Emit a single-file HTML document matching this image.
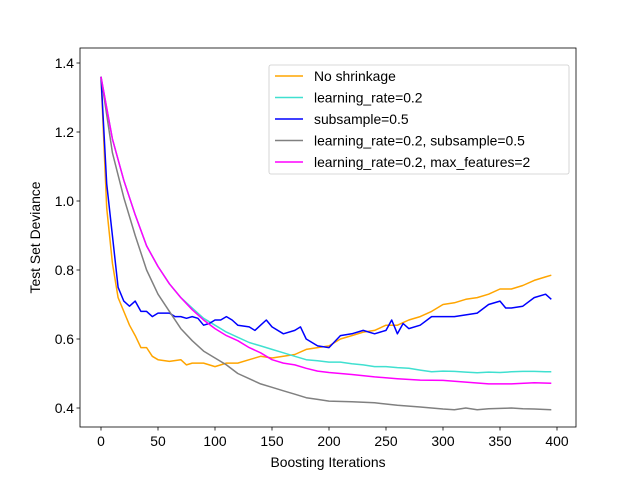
<!DOCTYPE html>
<html><head><meta charset="utf-8"><style>body{margin:0;background:#fff}svg{font-family:"Liberation Sans","DejaVu Sans",sans-serif}</style></head>
<body>
<svg id="chart" width="640" height="480"></svg>
<script>
const xTicks=[0,50,100,150,200,250,300,350,400];
const yTicks=[0.4,0.6,0.8,1.0,1.2,1.4];
const seriesNames=["No shrinkage","learning_rate=0.2","subsample=0.5","learning_rate=0.2, subsample=0.5","learning_rate=0.2, max_features=2"];
const seriesColors=["orange","turquoise","blue","gray","magenta"];
const itOrange=[0,5,10,15,20,25,30,35,40,45,50,60,70,75,80,90,100,110,120,130,140,150,160,170,180,190,200,210,220,230,240,250,260,270,280,290,300,310,320,330,340,350,360,370,380,390,395];
const valOrange=[1.36,0.98,0.82,0.72,0.68,0.64,0.61,0.575,0.575,0.55,0.54,0.535,0.54,0.525,0.53,0.53,0.52,0.53,0.53,0.54,0.55,0.545,0.55,0.555,0.57,0.575,0.58,0.6,0.61,0.62,0.625,0.64,0.64,0.655,0.665,0.68,0.7,0.705,0.715,0.72,0.73,0.745,0.745,0.755,0.77,0.78,0.785];
const itCyan=[0,10,20,30,40,50,60,70,80,90,100,110,120,130,140,150,160,170,180,190,200,210,220,230,240,250,260,270,280,290,300,310,320,330,340,350,360,370,380,390,395];
const valCyan=[1.36,1.18,1.06,0.96,0.87,0.81,0.76,0.72,0.69,0.66,0.64,0.62,0.605,0.59,0.58,0.57,0.56,0.55,0.54,0.537,0.533,0.533,0.528,0.525,0.52,0.52,0.517,0.515,0.51,0.505,0.507,0.506,0.504,0.502,0.504,0.503,0.505,0.506,0.506,0.505,0.505];
const itBlue=[0,5,10,15,20,25,30,35,40,45,50,60,65,70,75,80,85,90,95,100,105,110,115,120,130,135,140,145,150,160,170,175,180,190,200,210,220,230,240,250,255,260,265,270,280,290,300,310,320,330,340,350,355,360,370,380,390,395];
const valBlue=[1.36,1.05,0.9,0.75,0.71,0.695,0.71,0.68,0.68,0.665,0.675,0.675,0.665,0.665,0.66,0.665,0.66,0.64,0.645,0.655,0.655,0.665,0.655,0.64,0.635,0.625,0.64,0.655,0.635,0.615,0.625,0.635,0.6,0.58,0.575,0.61,0.615,0.625,0.615,0.625,0.655,0.615,0.645,0.63,0.64,0.665,0.665,0.665,0.67,0.675,0.7,0.71,0.69,0.69,0.695,0.72,0.73,0.715];
const itGray=[0,10,20,30,40,50,60,70,80,90,100,110,120,130,140,150,160,170,180,190,200,220,240,260,280,300,310,320,330,340,360,370,380,395];
const valGray=[1.36,1.14,1.01,0.9,0.8,0.73,0.68,0.63,0.595,0.565,0.545,0.525,0.5,0.485,0.47,0.46,0.45,0.44,0.43,0.425,0.42,0.418,0.415,0.408,0.403,0.397,0.395,0.4,0.395,0.398,0.4,0.398,0.397,0.395];
const itMag=[0,10,20,30,40,50,60,70,80,90,100,110,120,130,140,150,160,170,180,190,200,220,240,260,280,300,320,340,360,380,395];
const valMag=[1.36,1.18,1.06,0.96,0.87,0.81,0.76,0.72,0.685,0.655,0.63,0.61,0.595,0.575,0.56,0.54,0.53,0.525,0.515,0.507,0.503,0.497,0.49,0.485,0.481,0.48,0.475,0.47,0.47,0.473,0.472];
const seriesIts=[itOrange,itCyan,itBlue,itGray,itMag];
const seriesVals=[valOrange,valCyan,valBlue,valGray,valMag];

const L=80,R=576,T=48,B=427,FS=13.9;
const sx=v=>101+(v-0)*(557-101)/400;
const sy=v=>408-(v-0.4)*(408-63)/1.0;
const NS="http://www.w3.org/2000/svg";
const svg=document.getElementById('chart');
function mk(t,a,p){const e=document.createElementNS(NS,t);for(const k in a)e.setAttribute(k,a[k]);(p||svg).appendChild(e);return e;}

const lines=mk('g',{});


seriesIts.forEach((its,i)=>{
  const pts=its.map((x,j)=>sx(x).toFixed(1)+','+sy(seriesVals[i][j]).toFixed(1)).join(' ');
  const pl=mk('polyline',{points:pts,fill:'none',stroke:seriesColors[i],'stroke-width':1.5,'stroke-linejoin':'round'},lines);
  
  
});
const frame=mk('rect',{x:L,y:T,width:R-L,height:B-T,fill:'none',stroke:'#000','stroke-width':0.8});



xTicks.forEach(t=>{
  mk('line',{x1:sx(t),x2:sx(t),y1:B,y2:B+3.5,stroke:'#000','stroke-width':0.8});
  const tx=mk('text',{x:sx(t),y:B+19,'text-anchor':'middle','font-size':FS});
  tx.textContent=t;
  
  
});
yTicks.forEach(t=>{
  mk('line',{x1:L-3.5,x2:L,y1:sy(t),y2:sy(t),stroke:'#000','stroke-width':0.8});
  const tx=mk('text',{x:L-6,y:sy(t)+5,'text-anchor':'end','font-size':FS});
  tx.textContent=t.toFixed(1);
  
  
});
const xt=mk('text',{x:(L+R)/2,y:467,'text-anchor':'middle','font-size':FS});
xt.textContent='Boosting Iterations';


const yt=mk('text',{x:0,y:0,'text-anchor':'middle','font-size':FS,transform:'translate(40,'+((T+B)/2)+') rotate(-90)'});
yt.textContent='Test Set Deviance';



const lg=mk('g',{});


mk('rect',{x:269,y:65,width:300,height:109,rx:2,fill:'#fff','fill-opacity':0.8,stroke:'#ccc','stroke-width':0.8},lg);
seriesNames.forEach((n,i)=>{
  const y=76+i*21.5;
  mk('line',{x1:275,x2:303,y1:y,y2:y,stroke:seriesColors[i],'stroke-width':1.5},lg);
  const tx=mk('text',{x:314,y:y+5,'font-size':FS},lg);
  tx.textContent=n;
  
  
});
</script>
</body></html>
